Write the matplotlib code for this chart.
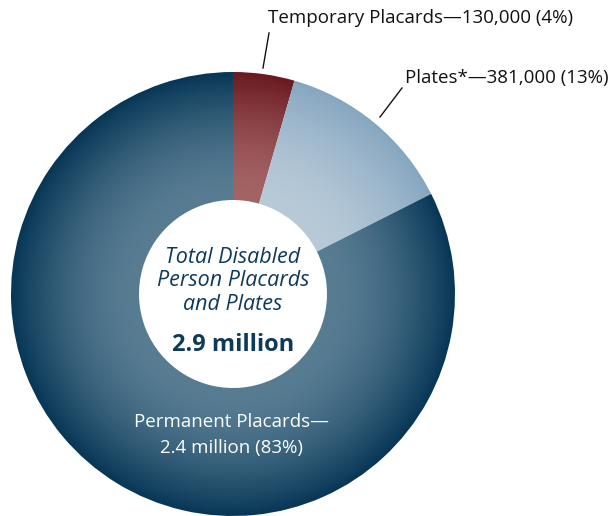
import numpy as np
import matplotlib.pyplot as plt
from matplotlib.colors import to_rgb

plt.rcParams['font.family'] = ['Open Sans', 'DejaVu Sans']

# data
labels = ['Temporary Placards', 'Plates*', 'Permanent Placards']
values = [130000, 381000, 2400000]
label_text = ['Temporary Placards\u2014130,000 (4%)',
              'Plates*\u2014381,000 (13%)',
              'Permanent Placards\u2014\n2.4 million (83%)']
total_text = 'Total Disabled\nPerson Placards\nand Plates'
total_value = '2.9 million'

# gradient colours per slice (outer edge, inner edge)
outer_cols = ['#6a1820', '#86a6c0', '#073656']
inner_cols = ['#a46466', '#b8cad8', '#587d93']

W, H = 613, 516
cx, cy, R, r_in = 233, 222, 222, 94

fig = plt.figure(figsize=(W / 100, H / 100), dpi=100)
ax = fig.add_axes([0, 0, 1, 1])

wedges, _ = ax.pie(values, startangle=90, counterclock=False, center=(cx, cy),
                   radius=R, wedgeprops=dict(width=R - r_in, linewidth=0),
                   frame=True)
ax.set_xlim(0, W)
ax.set_ylim(0, H)
ax.set_aspect('equal')
ax.axis('off')

# radial gradient inside each wedge
xx, yy = np.meshgrid(np.arange(W) + 0.5, np.arange(H) + 0.5)
dist = np.hypot(xx - cx, yy - cy)
t = np.clip((dist - r_in) / (R - r_in), 0, 1) ** 1.7
for w, co, ci in zip(wedges, outer_cols, inner_cols):
    co, ci = np.array(to_rgb(co)), np.array(to_rgb(ci))
    img = ci[None, None, :] * (1 - t[..., None]) + co[None, None, :] * t[..., None]
    im = ax.imshow(img, extent=(0, W, 0, H), origin='lower', zorder=1)
    im.set_clip_path(w)
    w.set_facecolor('none')

# centre text
ax.text(cx, H - 281, total_text, ha='center', va='center', style='italic',
        fontsize=15.5, color='#0e3a5a', linespacing=1.18, zorder=3)
ax.text(cx, H - 345, total_value, ha='center', va='center', weight='bold',
        fontsize=17, color='#0e3a5a', zorder=3)

# slice labels
ax.text(268, H - 18, label_text[0], ha='left', va='center', fontsize=13.5,
        color='#111111')
ax.plot([269, 263], [H - 33, H - 68], color='#111111', lw=1)
ax.text(405, H - 78, label_text[1], ha='left', va='center', fontsize=13.5,
        color='#111111')
ax.plot([402, 380], [H - 88, H - 117], color='#111111', lw=1)
ax.text(cx - 2, H - 435, label_text[2], ha='center', va='center', fontsize=13.5,
        color='white', linespacing=1.55, zorder=3)

fig.savefig('out.png', dpi=100)
